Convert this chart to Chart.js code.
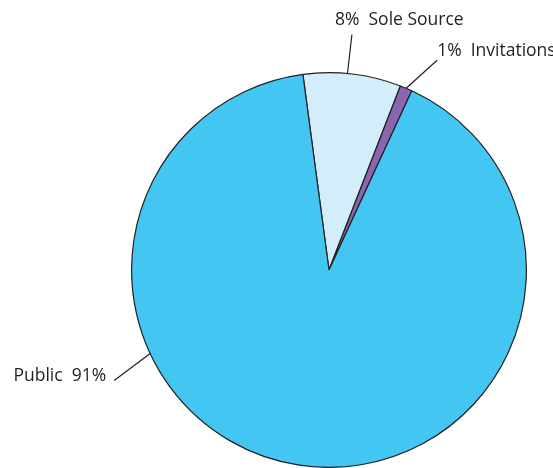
<!DOCTYPE html>
<html>
<head>
    <meta charset="UTF-8">
    <title>Procurement methods</title>
    <script src="https://cdn.jsdelivr.net/npm/chart.js@4.4.1/dist/chart.umd.min.js"></script>
    <style>
        body { margin: 0; background: #fff; }
        #pie { display: block; }
    </style>
</head>
<body>
    <canvas id="pie" width="553" height="468"></canvas>

    <script>
        // share of contracts by procurement method (percent)
        var methods = ['Sole Source', 'Invitations', 'Public'];
        var shares = [8, 1, 91];
        var sliceColors = ['#D3EEFA', '#8A66AE', '#44C6F2'];

        // where each leader line leaves its slice and where its text sits
        var callouts = [
            { at: 0.45, dx: 4.5, dy: -39, align: 'left', tx: -17, ty: -9, pctFirst: true },
            { at: 0.5, dx: 31, dy: -28, align: 'left', tx: 0, ty: -4, pctFirst: true },
            { at: 0.672, dx: -36, dy: 27, align: 'right', tx: -8, ty: 0, pctFirst: false }
        ];

        var calloutPlugin = {
            id: 'callouts',
            afterDatasetsDraw: function(chart) {
                var ctx = chart.ctx;
                var arcs = chart.getDatasetMeta(0).data;
                ctx.save();
                ctx.strokeStyle = '#231F20';
                ctx.fillStyle = '#231F20';
                ctx.lineWidth = 1.2;
                ctx.font = '17.5px "Open Sans"';
                ctx.textBaseline = 'alphabetic';
                arcs.forEach(function(arc, i) {
                    var p = arc.getProps(['x', 'y', 'startAngle', 'endAngle', 'outerRadius'], true);
                    var c = callouts[i];
                    var a = p.startAngle + (p.endAngle - p.startAngle) * c.at;
                    var x0 = p.x + p.outerRadius * Math.cos(a);
                    var y0 = p.y + p.outerRadius * Math.sin(a);
                    var x1 = x0 + c.dx;
                    var y1 = y0 + c.dy;
                    ctx.beginPath();
                    ctx.moveTo(x0, y0);
                    ctx.lineTo(x1, y1);
                    ctx.stroke();
                    var pct = shares[i] + '%';
                    var text = c.pctFirst ? pct + '  ' + methods[i] : methods[i] + '  ' + pct;
                    ctx.textAlign = c.align;
                    ctx.fillText(text, x1 + c.tx, y1 + c.ty);
                });
                ctx.restore();
            }
        };

        var ctx = document.getElementById('pie').getContext('2d');
        new Chart(ctx, {
            type: 'pie',
            data: {
                labels: methods,
                datasets: [{
                    data: shares,
                    backgroundColor: sliceColors,
                    borderColor: '#231F20',
                    borderWidth: 1.2
                }]
            },
            options: {
                responsive: false,
                animation: false,
                rotation: -7.6,
                layout: { padding: { left: 131, top: 72, right: 26, bottom: 0 } },
                plugins: {
                    legend: { display: false },
                    tooltip: { enabled: false }
                }
            },
            plugins: [calloutPlugin]
        });
    </script>
</body>
</html>
